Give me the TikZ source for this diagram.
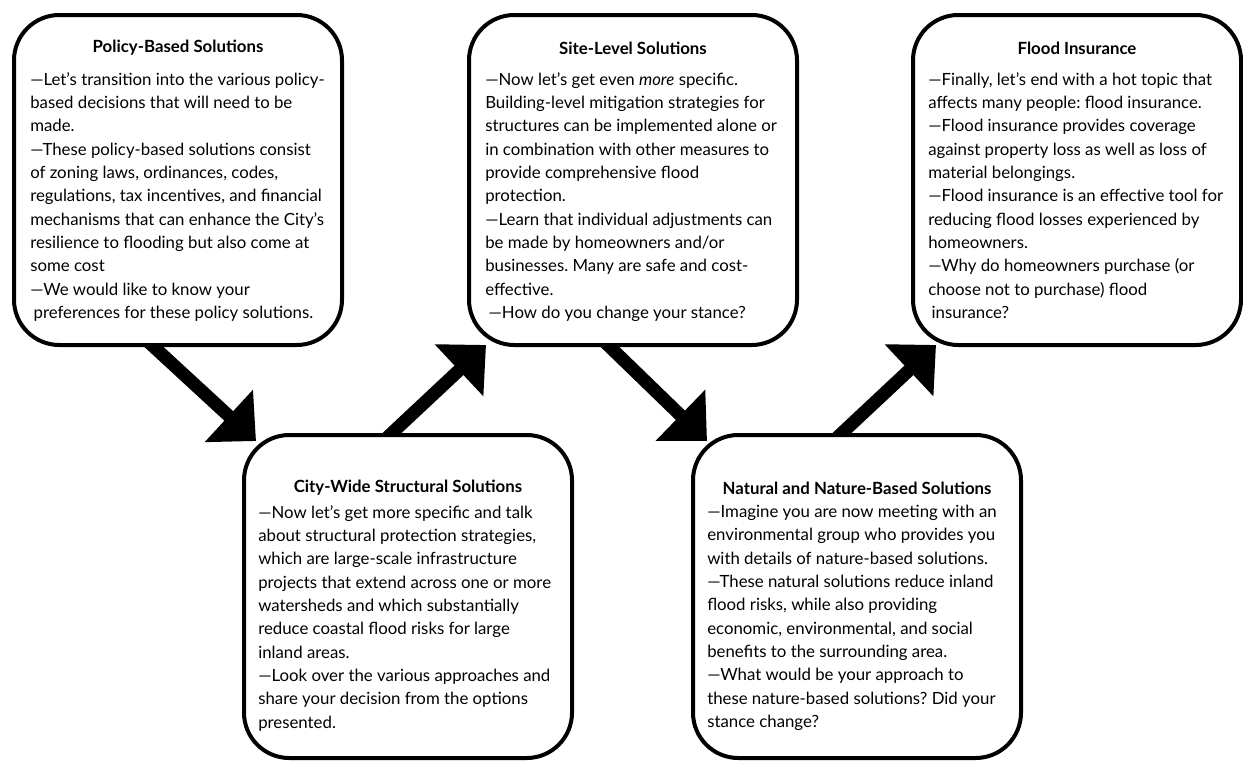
\documentclass[tikz,border=0pt]{standalone}
\usepackage{fontspec}
\setmainfont{Lato}
\frenchspacing
\usetikzlibrary{positioning,arrows.meta,calc,backgrounds}

\begin{document}
\begin{tikzpicture}[x=0.75pt, y=-0.75pt,
  box/.style={draw, line width=3pt, rounded corners=34pt, fill=white,
              minimum width=246pt, minimum height=247.5pt, inner sep=0pt},
  lowbox/.style={box, minimum height=242.25pt},
  ttl/.style={font=\fontsize{12.6}{17.5}\selectfont\bfseries, inner sep=0pt},
  txt/.style={font=\fontsize{12.6}{17.5}\selectfont, align=left,
              anchor=north west, inner sep=0pt},
  arr/.style={-{Triangle[length=27.75pt, width=51.75pt]}, line width=9.75pt,
              shorten <=-6pt},
]
  \useasboundingbox (0,0) rectangle (1243,761);

  % the five boxes
  \node[box]    (policy) at (178,180)   {};
  \node[box]    (site)   at (633,180)   {};
  \node[box]    (flood)  at (1077,180)  {};
  \node[lowbox] (city)   at (408,596.5) {};
  \node[lowbox] (nature) at (857,596.5) {};

  % titles
  \node[ttl] (policyttl) at ($(policy.north)+(0,35)$) {Policy-Based Solutions};
  \node[ttl] (sitettl)   at ($(site.north)+(0,35)$)   {Site-Level Solutions};
  \node[ttl] (floodttl)  at ($(flood.north)+(0,35)$)  {Flood Insurance};
  \node[ttl] (cityttl)   at ($(city.north)+(0,55)$)   {City-Wide Structural Solutions};
  \node[ttl] (naturettl) at ($(nature.north)+(0,55)$) {Natural and Nature-Based Solutions};

  % texts
  \node[txt] (policytxt) at ($(policy.north west)+(18,59)$) {%
    —Let’s transition into the various policy-\\
    based decisions that will need to be\\
    made.\\
    —These policy-based solutions consist\\
    of zoning laws, ordinances, codes,\\
    regulations, tax incentives, and financial\\
    mechanisms that can enhance the City’s\\
    resilience to flooding but also come at\\
    some cost\\
    —We would like to know your\\
    \hspace*{2.5pt}preferences for these policy solutions.};
  \node[txt] (sitetxt) at ($(site.north west)+(18,59)$) {%
    —Now let’s get even \textit{more} specific.\\
    Building-level mitigation strategies for\\
    structures can be implemented alone or\\
    in combination with other measures to\\
    provide comprehensive flood\\
    protection.\\
    —Learn that individual adjustments can\\
    be made by homeowners and/or\\
    businesses. Many are safe and cost-\\
    effective.\\
    \hspace*{2.5pt}—How do you change your stance?};
  \node[txt] (floodtxt) at ($(flood.north west)+(17,59)$) {%
    —Finally, let’s end with a hot topic that\\
    affects many people: flood insurance.\\
    —Flood insurance provides coverage\\
    against property loss as well as loss of\\
    material belongings.\\
    —Flood insurance is an effective tool for\\
    reducing flood losses experienced by\\
    homeowners.\\
    —Why do homeowners purchase (or\\
    choose not to purchase) flood\\
    \hspace*{2.5pt}insurance?};
  \node[txt] (citytxt) at ($(city.north west)+(16,72)$) {%
    —Now let’s get more specific and talk\\
    about structural protection strategies,\\
    which are large-scale infrastructure\\
    projects that extend across one or more\\
    watersheds and which substantially\\
    reduce coastal flood risks for large\\
    inland areas.\\
    —Look over the various approaches and\\
    share your decision from the options\\
    presented.};
  \node[txt] (naturetxt) at ($(nature.north west)+(16,72)$) {%
    —Imagine you are now meeting with an\\
    environmental group who provides you\\
    with details of nature-based solutions.\\
    —These natural solutions reduce inland\\
    flood risks, while also providing\\
    economic, environmental, and social\\
    benefits to the surrounding area.\\
    —What would be your approach to\\
    these nature-based solutions? Did your\\
    stance change?};

  % arrows
  \begin{scope}[on background layer]
    \draw[arr] ([xshift=-18pt]policy.south)  -- ($(city.north west)+(14,8)$);
    \draw[arr] ([xshift=-12pt]city.north)    -- ($(site.south west)+(19,-2)$);
    \draw[arr] ([xshift=-17.25pt]site.south) -- ($(nature.north west)+(16,8)$);
    \draw[arr] ([xshift=-11.25pt]nature.north) -- ($(flood.south west)+(25,-2)$);
  \end{scope}
\end{tikzpicture}
\end{document}
